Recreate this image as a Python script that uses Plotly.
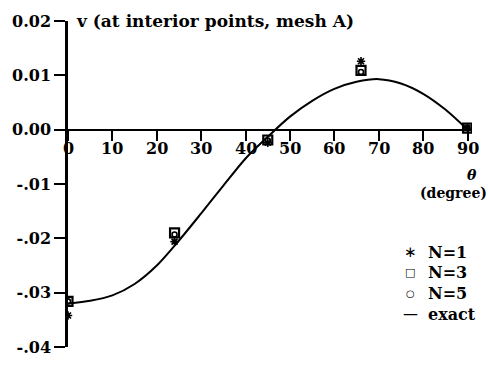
import plotly.graph_objects as go

# interior sample angles (degrees) and computed v for each order N
theta_pts = [0, 24, 45, 66, 90]
v_n1 = [-0.0342, -0.0206, -0.0024, 0.0126, 0.0003]
v_n3 = [-0.0316, -0.0190, -0.0019, 0.0109, 0.0003]
v_n5 = [-0.0316, -0.0193, -0.0020, 0.0106, 0.0003]

# exact solution sampled along theta
theta_exact = [0, 5, 10, 15, 20, 25, 30, 35, 40, 45, 50, 55, 60, 65, 70, 75, 80, 85, 90]
v_exact = [-0.0320, -0.0315, -0.0305, -0.0284, -0.0250, -0.0204, -0.0154, -0.0103,
           -0.0053, -0.0013, 0.0024, 0.0053, 0.0075, 0.0088, 0.0093, 0.0085, 0.0066,
           0.0037, 0.0]

y_ticks = [0.02, 0.01, 0.0, -0.01, -0.02, -0.03, -0.04]
y_tick_text = ["0.02", "0.01", "0.00", "-.01", "-.02", "-.03", "-.04"]
x_ticks = [0, 10, 20, 30, 40, 50, 60, 70, 80, 90]

legend_symbols = ["\u2217", "\u25a1", "\u25cb", "\u2014"]
legend_labels = ["N=1", "N=3", "N=5", "exact"]

FONT = "DejaVu Serif"
SYM_FONT = "DejaVu Sans"
WT = "bold"
BLACK = "#000000"
ML, MR, MT, MB = 65, 16, 15, 13
W, H = 488, 369

# glyph size for each legend key symbol
SYMBOL_SIZE = {"\u2217": 15, "\u25a1": 11, "\u25cb": 10, "\u2014": 15}

fig = go.Figure()
fig.add_trace(go.Scatter(x=theta_exact, y=v_exact, mode="lines",
                         line=dict(color=BLACK, width=2, shape="spline", smoothing=0.8),
                         hoverinfo="skip"))
fig.add_trace(go.Scatter(x=theta_pts, y=v_n3, mode="markers",
                         marker=dict(symbol="square-open", size=9, color=BLACK, line=dict(width=2.2, color=BLACK))))
fig.add_trace(go.Scatter(x=theta_pts, y=v_n5, mode="markers",
                         marker=dict(symbol="circle-open", size=5, color=BLACK, line=dict(width=1.6, color=BLACK))))
fig.add_trace(go.Scatter(x=theta_pts, y=v_n1, mode="markers",
                         marker=dict(symbol="asterisk", size=7, color=BLACK, line=dict(width=1.6, color=BLACK))))

fig.update_layout(
    width=W, height=H,
    margin=dict(l=ML, r=MR, t=MT, b=MB),
    paper_bgcolor="white", plot_bgcolor="white",
    showlegend=False,
    font=dict(family=FONT, size=16, color=BLACK, weight=WT),
    xaxis=dict(range=[0, 91], tickvals=x_ticks, ticks="outside", ticklen=10, tickwidth=2, tickcolor=BLACK,
               showline=True, linecolor=BLACK, linewidth=2, showgrid=False, zeroline=False,
               anchor="free", position=2/3, showticklabels=False),
    yaxis=dict(range=[-0.04, 0.02], tickvals=y_ticks, ticktext=y_tick_text, ticks="outside", ticklen=11,
               tickwidth=2, tickcolor=BLACK, showline=True, linecolor=BLACK, linewidth=2.5,
               showgrid=False, zeroline=False, tickfont=dict(family=FONT, size=16, weight=WT)),
)

def px_x(p):
    return (p - ML) / (W - ML - MR)

def px_y(p):
    return 1 - (p - MT) / (H - MT - MB)

annotations = [
    dict(text="v (at interior points, mesh A)", x=px_x(71), y=px_y(15), xref="paper", yref="paper",
         xanchor="left", yanchor="middle", showarrow=False,
         font=dict(family=FONT, size=17, weight=WT)),
    dict(text="<i>\u03b8</i>", x=px_x(472), y=px_y(176), xref="paper", yref="paper",
         xanchor="center", yanchor="middle", showarrow=False,
         font=dict(family=FONT, size=14, weight=WT)),
    dict(text="(degree)", x=px_x(489), y=px_y(195), xref="paper", yref="paper",
         xanchor="right", yanchor="middle", showarrow=False,
         font=dict(family=FONT, size=14, weight=WT)),
]
# x tick labels placed just under the tick marks of the zero-line axis
for t in x_ticks:
    annotations.append(dict(text=str(t), x=t, y=px_y(148.5), xref="x", yref="paper",
                            xanchor="center", yanchor="middle", showarrow=False,
                            font=dict(family=FONT, size=16, weight=WT)))
for i, (sym, lab) in enumerate(zip(legend_symbols, legend_labels)):
    yp = px_y(257 + i * 21.5)
    annotations.append(dict(text=sym, x=px_x(410), y=yp, xref="paper", yref="paper", xanchor="center",
                            yanchor="middle", showarrow=False,
                            font=dict(family=SYM_FONT, size=SYMBOL_SIZE[sym], weight="normal",
                                      color=BLACK)))
    annotations.append(dict(text=lab, x=px_x(426), y=yp, xref="paper", yref="paper", xanchor="left",
                            yanchor="middle", showarrow=False, font=dict(family=FONT, size=16, weight=WT)))
fig.update_layout(annotations=annotations)

fig.write_html("out.html")
